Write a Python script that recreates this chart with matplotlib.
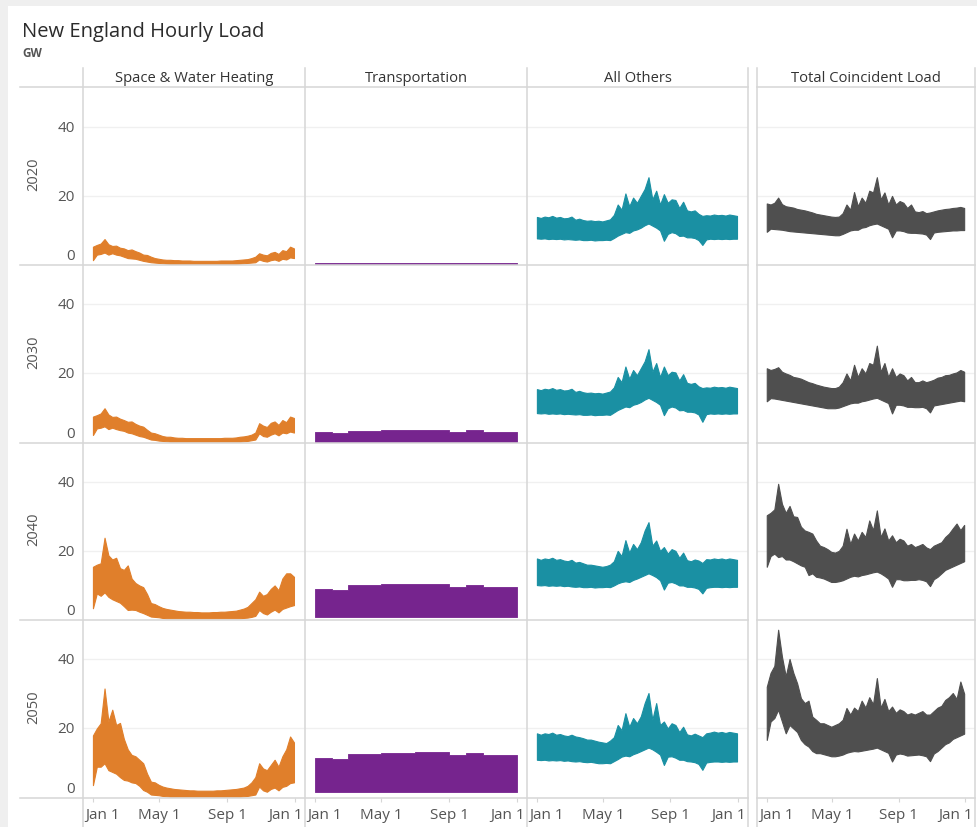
import numpy as np
import matplotlib
matplotlib.use("Agg")
import matplotlib.pyplot as plt
from matplotlib.lines import Line2D
from matplotlib.patches import Rectangle
from matplotlib.transforms import blended_transform_factory, ScaledTranslation

plt.rcParams["font.family"] = ["Open Sans", "DejaVu Sans"]

# colours
ORANGE = "#E07F2B"
PURPLE = "#76248E"
TEAL = "#1A90A3"
GREY = "#4F4F4F"
RULE = "#D6D6D6"
GRID = "#F0F0F0"
TXT = "#2B2B2B"
TICK = "#555555"

W, H = 978, 827

YEARS = ["2020", "2030", "2040", "2050"]
PANELS = ["Space & Water Heating", "Transportation", "All Others", "Total Coincident Load"]
TICK_DAYS = [0, 120, 243, 365]
TICK_LABELS = ["Jan 1", "May 1", "Sep 1", "Jan 1"]
Y_TICKS = [0, 20, 40]
MONTH_START = [0, 31, 59, 90, 120, 151, 181, 212, 243, 273, 304, 334, 365]
WEEK_DAYS = np.arange(0, 365, 7)  # 53 weekly samples, day of year

# --- Space & Water Heating, weekly high / low (GW) ---
HEAT_HI_2020 = [5.3, 5.8, 6.2, 7.5, 6.0, 5.5, 5.6, 5.0, 4.8, 4.3,
                4.5, 4.0, 3.6, 3.0, 2.9, 2.4, 2.0, 1.8, 1.6, 1.5,
                1.5, 1.4, 1.4, 1.3, 1.3, 1.3, 1.2, 1.2, 1.2, 1.2,
                1.2, 1.2, 1.2, 1.3, 1.3, 1.3, 1.3, 1.4, 1.5, 1.6,
                1.7, 2.0, 2.4, 3.4, 3.0, 2.8, 3.5, 3.8, 3.2, 4.3,
                4.0, 5.3, 4.8]
HEAT_LO_2020 = [1.4, 3.0, 3.2, 3.6, 3.0, 3.4, 3.0, 2.8, 2.4, 2.0,
                1.9, 1.8, 1.5, 1.2, 1.0, 0.8, 0.7, 0.6, 0.5, 0.4,
                0.3, 0.3, 0.3, 0.3, 0.3, 0.3, 0.3, 0.3, 0.3, 0.3,
                0.3, 0.3, 0.3, 0.3, 0.3, 0.3, 0.3, 0.3, 0.4, 0.5,
                0.6, 0.7, 0.8, 1.6, 1.2, 1.0, 1.4, 1.6, 1.2, 1.8,
                1.6, 2.2, 2.0]
HEAT_HI_2030 = [7.6, 8.0, 8.5, 10.0, 8.2, 7.5, 7.6, 7.0, 6.6, 6.1,
                6.2, 5.5, 5.0, 4.7, 3.8, 3.0, 2.8, 2.4, 2.0, 1.8,
                1.8, 1.6, 1.5, 1.5, 1.4, 1.4, 1.4, 1.4, 1.4, 1.4,
                1.4, 1.4, 1.4, 1.4, 1.5, 1.5, 1.5, 1.6, 1.8, 1.9,
                2.1, 2.4, 3.0, 5.7, 5.0, 4.6, 5.8, 6.2, 5.2, 6.6,
                6.0, 7.6, 7.2]
HEAT_LO_2030 = [2.3, 4.2, 4.4, 4.8, 4.0, 4.4, 4.0, 3.7, 3.5, 3.0,
                2.8, 2.4, 2.0, 1.8, 1.4, 1.0, 0.9, 0.7, 0.6, 0.5,
                0.4, 0.4, 0.4, 0.4, 0.4, 0.4, 0.4, 0.4, 0.4, 0.4,
                0.4, 0.4, 0.4, 0.4, 0.4, 0.4, 0.4, 0.4, 0.4, 0.5,
                0.6, 0.8, 1.0, 2.8, 2.0, 1.8, 2.4, 2.8, 2.2, 3.0,
                2.8, 3.3, 3.0]
HEAT_HI_2040 = [15.4, 16.0, 16.4, 23.8, 18.7, 17.5, 18.0, 15.0, 14.5, 15.8,
                12.0, 10.7, 10.0, 9.5, 7.5, 4.9, 4.6, 4.0, 3.5, 3.2,
                3.0, 2.8, 2.6, 2.5, 2.4, 2.4, 2.3, 2.3, 2.2, 2.2,
                2.2, 2.3, 2.3, 2.4, 2.4, 2.5, 2.6, 2.7, 3.0, 3.3,
                3.8, 4.9, 6.0, 8.2, 7.0, 7.5, 9.0, 10.0, 8.6, 12.0,
                13.5, 13.5, 12.5]
HEAT_LO_2040 = [3.4, 7.7, 7.0, 8.0, 6.7, 6.0, 5.5, 5.0, 4.0, 2.9,
                3.0, 2.9, 2.4, 2.0, 1.5, 1.0, 0.9, 0.8, 0.6, 0.5,
                0.5, 0.5, 0.5, 0.5, 0.5, 0.5, 0.5, 0.5, 0.5, 0.5,
                0.5, 0.5, 0.5, 0.5, 0.5, 0.5, 0.5, 0.5, 0.5, 0.6,
                0.7, 0.9, 1.2, 2.9, 2.0, 1.6, 2.4, 3.0, 2.2, 3.2,
                3.6, 4.0, 4.3]
HEAT_HI_2050 = [18.0, 20.0, 21.5, 31.5, 22.0, 25.4, 21.0, 21.6, 17.0, 14.0,
                12.4, 12.0, 11.0, 10.0, 7.0, 4.7, 4.5, 3.8, 3.3, 3.0,
                2.8, 2.6, 2.5, 2.4, 2.3, 2.2, 2.2, 2.1, 2.1, 2.1,
                2.1, 2.1, 2.2, 2.2, 2.3, 2.4, 2.5, 2.6, 2.8, 3.0,
                3.5, 4.5, 6.0, 10.0, 8.5, 8.0, 9.5, 11.0, 9.0, 12.0,
                14.0, 17.7, 16.0]
HEAT_LO_2050 = [3.7, 9.0, 9.0, 10.0, 8.0, 7.5, 7.0, 6.0, 5.2, 5.0,
                4.5, 4.3, 3.5, 2.3, 1.8, 1.0, 0.9, 0.8, 0.6, 0.5,
                0.4, 0.4, 0.4, 0.4, 0.4, 0.4, 0.4, 0.4, 0.4, 0.4,
                0.4, 0.4, 0.4, 0.4, 0.4, 0.4, 0.4, 0.4, 0.4, 0.5,
                0.6, 0.8, 1.0, 3.3, 2.2, 1.8, 2.6, 3.0, 2.2, 3.2,
                3.5, 4.3, 4.5]

# --- Transportation, monthly high / low (GW) ---
TRANS_HI_2020 = [0.45, 0.45, 0.45, 0.45, 0.45, 0.45, 0.45, 0.45, 0.45, 0.45, 0.45, 0.45]
TRANS_LO_2020 = [0.15, 0.15, 0.15, 0.15, 0.15, 0.15, 0.15, 0.15, 0.15, 0.15, 0.15, 0.15]
TRANS_HI_2030 = [3.1, 2.9, 3.5, 3.5, 3.65, 3.65, 3.7, 3.7, 3.3, 3.6, 3.3, 3.3]
TRANS_LO_2030 = [0.3, 0.3, 0.3, 0.3, 0.3, 0.3, 0.3, 0.3, 0.3, 0.3, 0.3, 0.3]
TRANS_HI_2040 = [9.1, 8.6, 10.0, 10.0, 10.3, 10.3, 10.5, 10.5, 9.6, 10.2, 9.6, 9.6]
TRANS_LO_2040 = [0.95, 0.95, 0.95, 0.95, 0.95, 0.95, 0.95, 0.95, 0.95, 0.95, 0.95, 0.95]
TRANS_HI_2050 = [11.6, 11.1, 12.8, 12.8, 13.0, 13.0, 13.3, 13.3, 12.3, 12.9, 12.3, 12.3]
TRANS_LO_2050 = [1.8, 1.8, 1.8, 1.8, 1.8, 1.8, 1.8, 1.8, 1.8, 1.8, 1.8, 1.8]

# --- All Others, weekly high / low (GW) ---
OTHER_HI_2020 = [13.9, 13.6, 14.0, 13.8, 14.2, 13.7, 13.9, 13.5, 13.6, 14.0,
                 13.1, 13.4, 13.0, 12.8, 12.9, 12.7, 12.8, 12.6, 12.9, 13.2,
                 14.5, 17.5, 16.0, 20.7, 17.0, 19.5, 18.0, 20.0, 22.0, 25.4,
                 19.0, 21.5, 17.5, 20.5, 18.0, 19.0, 18.8, 16.5, 18.3, 15.8,
                 15.5, 15.8, 14.8, 14.2, 14.4, 14.3, 14.6, 14.4, 14.5, 14.3,
                 14.6, 14.4, 14.2]
OTHER_LO_2020 = [7.7, 7.6, 7.7, 7.5, 7.6, 7.5, 7.6, 7.4, 7.5, 7.4,
                 7.3, 7.4, 7.2, 7.2, 7.3, 7.1, 7.2, 7.2, 7.3, 7.2,
                 7.8, 8.5, 9.0, 9.5, 9.3, 10.0, 10.3, 10.8, 11.5, 12.0,
                 11.4, 10.8, 10.0, 7.0, 9.0, 9.5, 9.2, 8.4, 8.5, 8.0,
                 8.0, 7.8, 7.2, 5.8, 7.4, 7.6, 7.5, 7.6, 7.5, 7.6,
                 7.5, 7.6, 7.6]
OTHER_HI_2030 = [15.5, 15.2, 15.6, 15.4, 15.8, 15.3, 15.5, 15.1, 15.2, 15.6,
                 14.7, 15.0, 14.6, 14.4, 14.5, 14.3, 14.4, 14.2, 14.5, 14.8,
                 16.0, 19.0, 17.5, 22.0, 18.5, 21.0, 19.5, 21.5, 23.5, 27.0,
                 20.5, 23.0, 19.0, 22.0, 19.5, 20.5, 20.3, 18.0, 19.8, 17.3,
                 17.0, 17.3, 16.3, 15.8, 16.0, 15.9, 16.2, 16.0, 16.1, 15.9,
                 16.2, 16.0, 15.8]
OTHER_LO_2030 = [8.6, 8.5, 8.6, 8.4, 8.5, 8.4, 8.5, 8.3, 8.4, 8.3,
                 8.2, 8.3, 8.1, 8.1, 8.2, 8.0, 8.1, 8.1, 8.2, 8.1,
                 8.8, 9.5, 10.0, 10.5, 10.3, 11.0, 11.3, 11.8, 12.5, 13.0,
                 12.4, 11.8, 11.0, 8.0, 10.0, 10.5, 10.2, 9.4, 9.5, 9.0,
                 9.0, 8.8, 8.2, 6.1, 8.3, 8.5, 8.4, 8.5, 8.4, 8.5,
                 8.4, 8.5, 8.5]
OTHER_HI_2040 = [17.8, 17.4, 17.8, 17.6, 18.0, 17.4, 17.6, 17.2, 17.0, 17.4,
                 16.6, 16.8, 16.4, 16.0, 16.0, 15.8, 15.6, 15.4, 15.6, 16.0,
                 17.0, 20.0, 18.5, 23.1, 19.5, 22.0, 20.5, 22.5, 25.9, 28.3,
                 21.5, 23.0, 20.0, 21.1, 19.2, 20.5, 20.0, 18.0, 19.5, 17.3,
                 17.0, 17.5, 17.2, 16.5, 17.6, 17.5, 17.8, 17.6, 17.8, 17.5,
                 17.8, 17.6, 17.4]
OTHER_LO_2040 = [10.1, 10.0, 10.1, 9.9, 10.0, 9.9, 10.0, 9.8, 9.9, 9.7,
                 9.6, 9.7, 9.5, 9.5, 9.6, 9.4, 9.5, 9.5, 9.6, 9.5,
                 10.0, 10.6, 11.0, 11.2, 11.0, 11.6, 12.0, 12.5, 13.0, 13.5,
                 13.0, 12.4, 11.5, 8.8, 10.8, 11.0, 10.6, 10.0, 10.0, 9.6,
                 9.6, 9.4, 9.0, 7.7, 9.3, 9.5, 9.6, 9.6, 9.5, 9.6,
                 9.5, 9.6, 9.6]
OTHER_HI_2050 = [18.6, 18.2, 18.6, 18.4, 18.8, 18.2, 18.4, 18.0, 17.8, 18.2,
                 17.7, 17.5, 17.2, 16.8, 16.8, 16.5, 16.2, 16.0, 15.8, 16.5,
                 17.5, 21.0, 19.5, 24.4, 20.5, 23.0, 21.5, 23.5, 27.3, 30.2,
                 22.5, 27.3, 21.0, 22.0, 20.0, 21.5, 21.0, 19.0, 20.5, 18.3,
                 18.0, 18.5, 18.0, 17.5, 18.6, 18.8, 19.1, 18.8, 19.0, 18.7,
                 19.0, 18.8, 18.6]
OTHER_LO_2050 = [11.0, 10.9, 11.0, 10.8, 10.9, 10.8, 10.9, 10.7, 10.8, 10.6,
                 10.5, 10.6, 10.4, 10.3, 10.4, 10.2, 10.0, 10.0, 10.1, 10.0,
                 10.6, 11.2, 11.9, 12.2, 12.0, 12.6, 13.0, 13.5, 14.0, 14.5,
                 14.0, 13.3, 12.5, 9.5, 11.9, 12.0, 11.6, 11.0, 11.0, 10.6,
                 10.5, 10.3, 9.8, 8.1, 10.2, 10.4, 10.5, 10.5, 10.4, 10.5,
                 10.4, 10.5, 10.5]

# --- Total Coincident Load, weekly high / low (GW) ---
TOTAL_HI_2020 = [17.8, 17.5, 18.0, 19.5, 17.6, 17.0, 16.8, 16.6, 16.2, 16.0,
                 15.8, 15.5, 15.2, 14.8, 14.6, 14.4, 14.2, 14.0, 13.9, 14.0,
                 15.0, 17.5, 16.0, 21.1, 17.0, 19.5, 18.0, 21.5, 21.0, 25.4,
                 19.0, 21.0, 17.5, 20.0, 17.5, 18.5, 18.0, 16.5, 17.5, 15.5,
                 15.3, 15.6, 15.0, 15.2, 15.5, 15.8, 16.0, 16.2, 16.3, 16.5,
                 16.6, 16.8, 16.5]
TOTAL_LO_2020 = [9.6, 10.5, 10.4, 10.3, 10.2, 10.0, 9.8, 9.7, 9.6, 9.5,
                 9.4, 9.3, 9.2, 9.1, 9.0, 8.9, 8.8, 8.7, 8.6, 8.6,
                 9.0, 9.5, 10.0, 10.2, 10.2, 10.8, 11.0, 11.5, 11.8, 12.0,
                 11.5, 11.0, 10.5, 8.0, 10.0, 10.0, 9.8, 9.4, 9.3, 9.3,
                 9.2, 9.1, 8.8, 7.5, 9.4, 9.6, 9.7, 9.8, 9.9, 10.0,
                 10.0, 10.1, 10.1]
TOTAL_HI_2030 = [21.5, 21.0, 21.3, 21.8, 20.5, 20.0, 19.6, 19.0, 18.8, 18.5,
                 18.0, 17.5, 17.2, 16.8, 16.5, 16.2, 16.0, 15.8, 15.8, 16.2,
                 17.5, 20.0, 18.0, 22.5, 19.0, 21.5, 20.0, 23.0, 22.5, 28.0,
                 20.5, 23.0, 19.0, 21.5, 19.0, 20.0, 19.5, 18.0, 19.0, 17.5,
                 17.5, 18.0, 17.5, 17.8, 18.2, 18.8, 19.0, 19.5, 19.6, 20.0,
                 20.3, 21.0, 20.5]
TOTAL_LO_2030 = [12.0, 12.9, 12.8, 12.6, 12.4, 12.2, 12.0, 11.8, 11.6, 11.4,
                 11.2, 11.0, 10.8, 10.6, 10.4, 10.2, 10.0, 10.0, 10.0, 10.2,
                 10.6, 11.0, 11.4, 11.6, 11.6, 12.0, 12.2, 12.5, 12.8, 13.0,
                 12.5, 12.0, 11.5, 8.5, 11.0, 11.0, 10.8, 10.4, 10.4, 10.3,
                 10.3, 10.4, 10.0, 8.8, 10.8, 11.0, 11.2, 11.4, 11.6, 11.8,
                 12.0, 12.2, 12.0]
TOTAL_HI_2040 = [30.3, 31.0, 32.0, 39.4, 33.6, 31.0, 33.0, 30.0, 29.8, 27.0,
                 25.9, 25.5, 25.0, 23.0, 21.5, 21.1, 20.5, 19.7, 19.5, 20.0,
                 21.5, 26.4, 22.0, 25.0, 23.0, 25.5, 24.0, 28.8, 26.0, 31.7,
                 24.0, 26.5, 23.0, 24.5, 22.5, 23.5, 23.0, 21.5, 22.0, 21.1,
                 21.5, 22.0, 21.0, 20.5, 21.5, 22.0, 22.5, 24.0, 25.0, 26.5,
                 27.9, 26.0, 27.5]
TOTAL_LO_2040 = [15.4, 18.5, 19.2, 18.2, 18.5, 17.5, 17.5, 17.0, 16.4, 15.8,
                 15.4, 13.0, 13.5, 12.5, 12.3, 12.0, 11.5, 11.0, 11.0, 11.2,
                 11.5, 12.0, 12.5, 12.8, 12.6, 13.0, 13.2, 13.5, 13.8, 14.0,
                 13.5, 12.8, 12.0, 9.6, 11.8, 11.8, 11.5, 11.5, 11.6, 11.6,
                 11.8, 11.6, 11.2, 9.8, 11.8, 12.5, 13.5, 14.5, 15.0, 15.5,
                 16.0, 16.5, 17.0]
TOTAL_HI_2050 = [32.0, 36.0, 38.0, 48.4, 40.7, 35.0, 40.0, 36.0, 33.0, 28.7,
                 27.3, 28.0, 23.4, 22.5, 21.5, 21.5, 21.0, 20.5, 21.0, 21.5,
                 22.5, 25.9, 24.0, 26.0, 25.0, 28.0, 26.0, 29.0, 27.0, 34.5,
                 26.0, 28.5, 25.0, 26.3, 24.5, 25.5, 25.0, 24.0, 24.4, 24.0,
                 24.5, 25.0, 24.0, 24.0, 25.0, 26.0, 26.5, 28.2, 29.0, 30.2,
                 28.5, 33.5, 30.0]
TOTAL_LO_2050 = [16.7, 22.0, 23.0, 25.4, 22.0, 18.6, 21.0, 20.0, 19.0, 16.7,
                 15.5, 14.8, 13.5, 12.9, 12.9, 12.6, 12.3, 12.0, 12.0, 12.2,
                 12.5, 13.0, 13.3, 13.5, 13.4, 13.6, 13.8, 14.0, 14.2, 14.5,
                 14.0, 13.5, 13.0, 10.5, 12.5, 12.8, 12.6, 12.2, 12.3, 12.4,
                 12.5, 12.3, 12.0, 10.6, 12.8, 13.5, 14.5, 15.5, 16.0, 17.0,
                 17.5, 18.0, 18.5]

SERIES = {
    "2020": [(HEAT_LO_2020, HEAT_HI_2020), (TRANS_LO_2020, TRANS_HI_2020),
             (OTHER_LO_2020, OTHER_HI_2020), (TOTAL_LO_2020, TOTAL_HI_2020)],
    "2030": [(HEAT_LO_2030, HEAT_HI_2030), (TRANS_LO_2030, TRANS_HI_2030),
             (OTHER_LO_2030, OTHER_HI_2030), (TOTAL_LO_2030, TOTAL_HI_2030)],
    "2040": [(HEAT_LO_2040, HEAT_HI_2040), (TRANS_LO_2040, TRANS_HI_2040),
             (OTHER_LO_2040, OTHER_HI_2040), (TOTAL_LO_2040, TOTAL_HI_2040)],
    "2050": [(HEAT_LO_2050, HEAT_HI_2050), (TRANS_LO_2050, TRANS_HI_2050),
             (OTHER_LO_2050, OTHER_HI_2050), (TOTAL_LO_2050, TOTAL_HI_2050)],
}
COLOURS = [ORANGE, PURPLE, TEAL, GREY]

# pane edges in pixels
COL_PX = [(83, 305), (305, 527), (527, 748), (757, 975)]
ROW_PX = [(88, 265), (265, 443), (443, 620), (620, 798)]


def fx(x):
    return x / W


def fy(y):
    return 1 - y / H


def rule(x0, y0, x1, y1):
    fig.add_artist(Line2D([fx(x0), fx(x1)], [fy(y0), fy(y1)],
                          transform=fig.transFigure, color=RULE, lw=1.1, zorder=5))


fig = plt.figure(figsize=(W / 100, H / 100), dpi=100, facecolor="#EFEFEF")
fig.add_artist(Rectangle((fx(8), 0), 1 - fx(8), fy(6), transform=fig.transFigure,
                         facecolor="white", edgecolor="none", zorder=-1))

# title block
fig.text(fx(22), fy(37.5), "New England Hourly Load", fontsize=14.5,
         color=TXT, va="baseline")
fig.text(fx(22.5), fy(57), "GW", fontsize=8.5, color="#555555",
         fontweight="bold", va="baseline")

# column headers
for c, panel in enumerate(PANELS):
    x0, x1 = COL_PX[c]
    fig.text(fx((x0 + x1) / 2), fy(82), panel, fontsize=10.6, color="#333333",
             ha="center", va="baseline")

for r, year in enumerate(YEARS):
    y0, y1 = ROW_PX[r]
    fig.text(fx(34), fy((y0 + y1) / 2 - 2), year, fontsize=10.5, color=TICK,
             rotation=90, ha="center", va="center")
    for c in range(4):
        x0, x1 = COL_PX[c]
        ax = fig.add_axes([fx(x0), fy(y1), (x1 - x0) / W, (y1 - y0) / H])
        ax.set_xlim(-18, 384)
        ax.set_ylim(0, 51.2)
        ax.patch.set_alpha(0)
        for s in ax.spines.values():
            s.set_visible(False)
        ax.set_yticks([])
        ax.set_xticks(TICK_DAYS if r == 3 else [])
        ax.tick_params(axis="x", length=3, color=RULE, labelbottom=False)
        for g in Y_TICKS[1:]:
            ax.axhline(g, color=GRID, lw=1, zorder=0)

        lo, hi = SERIES[year][c]
        col = COLOURS[c]
        if c == 1:
            # monthly steps, last month held to year end
            ax.fill_between(MONTH_START, lo + lo[-1:], hi + hi[-1:], step="post",
                            color=col, lw=0.6, zorder=2)
        else:
            ax.fill_between(WEEK_DAYS, lo, hi, color=col, lw=0.8, zorder=2)

        # y tick labels, first column only ("0" sits just inside the pane)
        if c == 0:
            tr = blended_transform_factory(fig.transFigure, ax.transData)
            for v in Y_TICKS:
                off = 0.05 if v == 0 else -0.05
                t = tr + ScaledTranslation(0, off, fig.dpi_scale_trans)
                ax.text(fx(75), v, str(v), fontsize=11, color=TICK,
                        ha="right", va="baseline", transform=t)

        # x tick labels on the bottom row, end labels kept inside the pane
        if r == 3:
            tr = blended_transform_factory(ax.transData, fig.transFigure)
            for i, (d, lab) in enumerate(zip(TICK_DAYS, TICK_LABELS)):
                if i == 0:
                    fig.text(fx(x0 + 2), fy(819), lab, fontsize=11, color=TICK,
                             ha="left", va="baseline")
                elif i == len(TICK_DAYS) - 1:
                    fig.text(fx(x1 - 2), fy(819), lab, fontsize=11, color=TICK,
                             ha="right", va="baseline")
                else:
                    ax.text(d, fy(819), lab, fontsize=11, color=TICK, ha="center",
                            va="baseline", transform=tr)

# separators
for y in [87] + [r[1] for r in ROW_PX]:
    rule(20, y, 748, y)
    rule(757, y, 975, y)
for x in [83, 305, 527, 748, 757, 975]:
    rule(x, 68, x, 827)

fig.savefig("out.png", dpi=100, facecolor=fig.get_facecolor())
